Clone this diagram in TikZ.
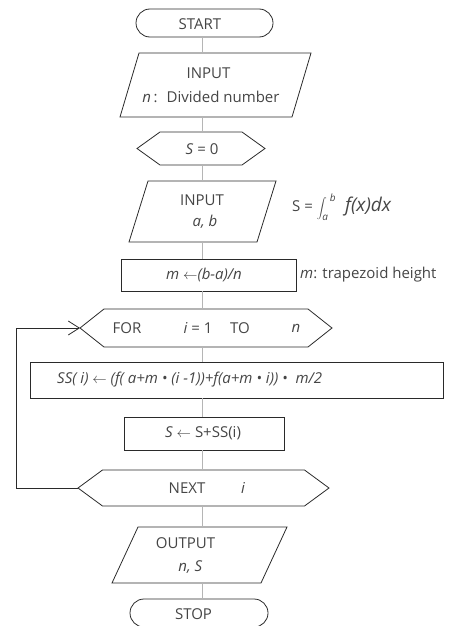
\documentclass[tikz,border=0pt]{standalone}
\usepackage{fontspec}
\setmainfont{Open Sans}
\usetikzlibrary{arrows.meta,calc}
\definecolor{txt}{HTML}{454545}
\definecolor{edge}{HTML}{2A2A2A}
\definecolor{conn}{HTML}{B5B5B5}
\newcommand\hexshape[2]{\draw[outline] (#1.west) -- ($(#1.north west)+(#2,0)$) -- ($(#1.north east)+(-#2,0)$) -- (#1.east) -- ($(#1.south east)+(-#2,0)$) -- ($(#1.south west)+(#2,0)$) -- cycle;}
\newcommand\paralshape[2]{\draw[outline] ($(#1.north west)+(#2,0)$) -- (#1.north east) -- ($(#1.south east)+(-#2,0)$) -- (#1.south west) -- cycle;}
\begin{document}
\begin{tikzpicture}[x=1pt,y=-1pt,
  font=\fontsize{15}{18}\selectfont,
  frame/.style={inner sep=0pt, outer sep=0pt, shape=rectangle},
  outline/.style={draw=edge, line width=0.8pt},
  rbox/.style={frame, draw=edge, line width=0.8pt},
  term/.style={frame, draw=edge, line width=0.8pt, rounded corners=14pt},
  lbl/.style={inner sep=0pt, text=txt},
  connector/.style={draw=conn, line width=0.8pt},
  loopline/.style={draw=edge, line width=0.8pt}]
\useasboundingbox (0,0) rectangle (464,626);
\coordinate (spine) at (202,0);

% shapes
\node[term, minimum width=137pt, minimum height=28pt] (start) at (204.5,23) {};
\node[frame, minimum width=191pt, minimum height=64pt] (in1) at (215.5,85) {};
\paralshape{in1}{19}
\node[frame, minimum width=128pt, minimum height=33pt] (s0) at (201,148.5) {};
\hexshape{s0}{23}
\node[frame, minimum width=147pt, minimum height=61pt] (in2) at (202.5,211.5) {};
\paralshape{in2}{19}
\node[rbox, minimum width=175pt, minimum height=32pt] (mbox) at (208.5,275) {};
\node[frame, minimum width=252pt, minimum height=38pt] (for) at (206,328) {};
\hexshape{for}{24}
\node[rbox, minimum width=413pt, minimum height=36pt] (ss) at (236.5,380) {};
\node[rbox, minimum width=160pt, minimum height=33pt] (sbox) at (204,433.5) {};
\node[frame, minimum width=251pt, minimum height=36pt] (next) at (203.5,488) {};
\hexshape{next}{24.5}
\node[frame, minimum width=175pt, minimum height=56pt] (out) at (199.5,555) {};
\paralshape{out}{26}
\node[term, minimum width=138pt, minimum height=28pt] (stop) at (199,613) {};

% texts
\node[lbl] (tstart) at (200,24) {START};
\node[lbl] (tin1a) at (208.5,73) {INPUT};
\node[lbl] (tin1b) at (211,97) {\textit{n}\,: \ Divided number};
\node[lbl] (ts0) at (202,149) {\textit{S} = 0};
\node[lbl] (tin2a) at (202,200) {INPUT};
\node[lbl] (tin2b) at (205,222) {\textit{a, b}};
\node[lbl] (tm) at (204,275) {\textit{m} $\leftarrow$\textit{(b-a)/n}};
\node[lbl] (tfor) at (127,328) {FOR};
\node[lbl] (ti1) at (198,328) {\textit{i} = 1};
\node[lbl] (tto) at (240,328) {TO};
\node[lbl] (tn) at (296,328) {\textit{n}};
\node[lbl, anchor=west] (tss) at (57,380) {\textit{SS( i) $\leftarrow$ (f( a+m • (i -1))+f(a+m • i)) • \ m/2}};
\node[lbl] (ts) at (203,433) {\textit{S} $\leftarrow$ S+SS(i)};
\node[lbl] (tnext) at (187,488) {NEXT};
\node[lbl] (ti2) at (243,488) {\textit{i}};
\node[lbl] (tout1) at (185.5,543) {OUTPUT};
\node[lbl] (tout2) at (190.5,567) {\textit{n, S}};
\node[lbl] (tstop) at (193.5,614) {STOP};
\node[lbl, anchor=west] (tint) at (292,207) {S = $\displaystyle\int_{\mbox{\fontsize{10}{10}\selectfont\itshape a}}^{\hspace{3pt}\mbox{\fontsize{10}{10}\selectfont\itshape b}}$\hspace{9pt}{\fontsize{19}{22}\selectfont\textit{f(x)dx}}};
\node[lbl, anchor=west] (ttrap) at (300,275) {\textit{m}: trapezoid height};

% connectors
\draw[connector] (start.south -| spine) -- (in1.north -| spine);
\draw[connector] (in1.south -| spine) -- (s0.north -| spine);
\draw[connector] (s0.south -| spine) -- (in2.north -| spine);
\draw[connector] (in2.south -| spine) -- (mbox.north -| spine);
\draw[connector] (mbox.south -| spine) -- (for.north -| spine);
\draw[connector] (for.south -| spine) -- (ss.north -| spine);
\draw[connector] (ss.south -| spine) -- (sbox.north -| spine);
\draw[connector] (sbox.south -| spine) -- (next.north -| spine);
\draw[connector] (next.south -| spine) -- (out.north -| spine);
\draw[connector] (out.south -| spine) -- (stop.north -| spine);

% loop back
\coordinate (lx) at (16,0);
\draw[loopline, -{Straight Barb[length=11pt,width=14pt,line width=0.8pt]}] (next.west) -- (next.west -| lx) -- (for.west -| lx) -- (for.west);
\end{tikzpicture}
\end{document}
